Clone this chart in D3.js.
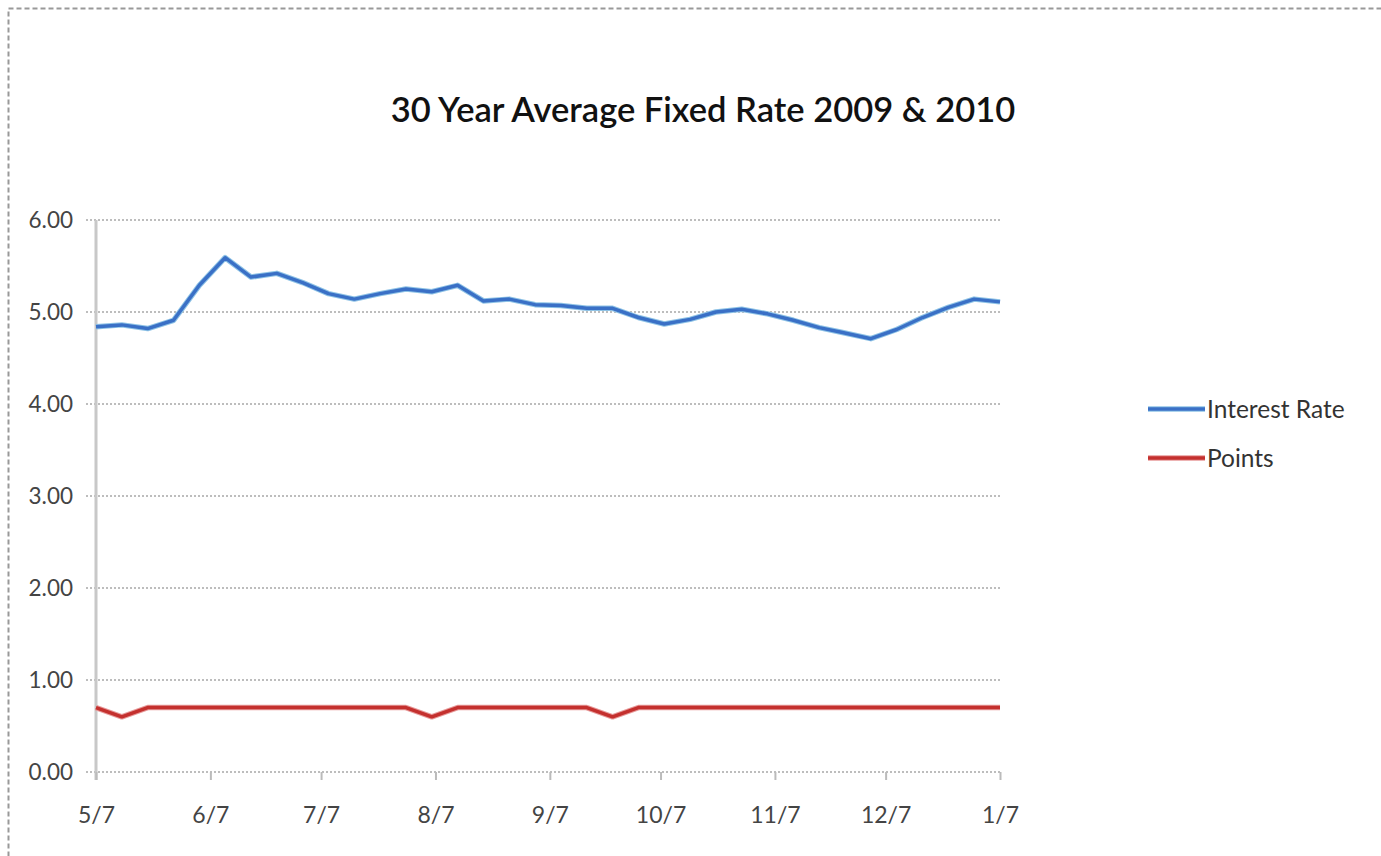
<!DOCTYPE html>
<html><head><meta charset="utf-8">
<script src="https://cdn.jsdelivr.net/npm/d3@7"></script>
<style>body{margin:0;background:#fff}svg{display:block}</style>
</head><body>
<svg id="c" width="1381" height="856"></svg>
<script>
const dates = ["2009-05-07","2009-05-14","2009-05-21","2009-05-28","2009-06-04","2009-06-11","2009-06-18","2009-06-25","2009-07-02","2009-07-09","2009-07-16","2009-07-23","2009-07-30","2009-08-06","2009-08-13","2009-08-20","2009-08-27","2009-09-03","2009-09-10","2009-09-17","2009-09-24","2009-10-01","2009-10-08","2009-10-15","2009-10-22","2009-10-29","2009-11-05","2009-11-12","2009-11-19","2009-11-25","2009-12-03","2009-12-10","2009-12-17","2009-12-24","2009-12-31","2010-01-07"];
const interestRate = [4.84,4.86,4.82,4.91,5.29,5.59,5.38,5.42,5.32,5.20,5.14,5.20,5.25,5.22,5.29,5.12,5.14,5.08,5.07,5.04,5.04,4.94,4.87,4.92,5.00,5.03,4.98,4.91,4.83,4.78,4.71,4.81,4.94,5.05,5.14,5.11];
const points = [0.7,0.6,0.7,0.7,0.7,0.7,0.7,0.7,0.7,0.7,0.7,0.7,0.7,0.6,0.7,0.7,0.7,0.7,0.7,0.7,0.6,0.7,0.7,0.7,0.7,0.7,0.7,0.7,0.7,0.7,0.7,0.7,0.7,0.7,0.7,0.7];
const xTickDates = ["2009-05-07","2009-06-07","2009-07-07","2009-08-07","2009-09-07","2009-10-07","2009-11-07","2009-12-07","2010-01-07"];
const xTickLabels = ["5/7","6/7","7/7","8/7","9/7","10/7","11/7","12/7","1/7"];
const yTicks = [0,1,2,3,4,5,6];
const title = "30 Year Average Fixed Rate 2009 & 2010";
const seriesNames = ["Interest Rate","Points"];

const parse = d3.timeParse("%Y-%m-%d");
const svg = d3.select("#c");
const font = "Lato, 'Open Sans', sans-serif";

// outer dashed border
svg.append("rect").attr("x",8.5).attr("y",8.5).attr("width",1400).attr("height",900)
  .attr("fill","none").attr("stroke","#999").attr("stroke-width",2).attr("stroke-dasharray","5,3");

const x = d3.scaleTime().domain([parse(dates[0]), parse(dates[dates.length-1])]).range([96,1000]);
const y = d3.scaleLinear().domain([0,6]).range([772,220]);

// gridlines (incl. baseline)
svg.append("g").selectAll("line").data(yTicks).join("line")
  .attr("x1",86).attr("x2",1002).attr("y1",d=>y(d)).attr("y2",d=>y(d))
  .attr("stroke","#a8a8a8").attr("stroke-width",1.5).attr("stroke-dasharray","2,2");

// y axis line
svg.append("line").attr("x1",96).attr("x2",96).attr("y1",220).attr("y2",780)
  .attr("stroke","#c8c8c8").attr("stroke-width",3);

// x axis
const xa = svg.append("g").attr("transform","translate(0,772)")
  .call(d3.axisBottom(x).tickValues(xTickDates.map(parse)).tickFormat((d,i)=>xTickLabels[i]).tickSize(8).tickPadding(35));
xa.select(".domain").remove();
xa.selectAll(".tick line").attr("stroke","#bbb").attr("stroke-width",2);
xa.selectAll(".tick text").attr("font-family",font).attr("font-size",23).attr("fill","#444").attr("dy","0.35em");

// y labels
svg.append("g").selectAll("text").data(yTicks).join("text")
  .attr("x",73).attr("y",d=>y(d)).attr("dy","0.35em").attr("text-anchor","end")
  .attr("font-family",font).attr("font-size",22.5).attr("fill","#444")
  .text(d=>d.toFixed(2));

const line = d3.line().x((d,i)=>x(parse(dates[i]))).y(d=>y(d));
const colors = ["#3a70c6","#c4302e"];
const halo = ["#8fc3e6","#e79a9a"];
[interestRate, points].forEach((s,k)=>{
  svg.append("path").attr("d",line(s)).attr("fill","none").attr("stroke",halo[k]).attr("stroke-width",5.5).attr("stroke-linejoin","round");
  svg.append("path").attr("d",line(s)).attr("fill","none").attr("stroke",colors[k]).attr("stroke-width",3.5).attr("stroke-linejoin","round");
});

// title
svg.append("text").attr("x",703).attr("y",122).attr("text-anchor","middle")
  .attr("font-family",font).attr("font-size",34.5).attr("font-weight",600).attr("fill","#111").text(title);

// legend
seriesNames.forEach((n,k)=>{
  const ly = 409 + k*49;
  svg.append("line").attr("x1",1148).attr("x2",1205).attr("y1",ly).attr("y2",ly).attr("stroke",halo[k]).attr("stroke-width",5.5);
  svg.append("line").attr("x1",1148).attr("x2",1205).attr("y1",ly).attr("y2",ly).attr("stroke",colors[k]).attr("stroke-width",3.5);
  svg.append("text").attr("x",1207).attr("y",ly).attr("dy","0.35em").attr("font-family",font).attr("font-size",24.5).attr("fill","#333").text(n);
});
</script>
</body></html>
